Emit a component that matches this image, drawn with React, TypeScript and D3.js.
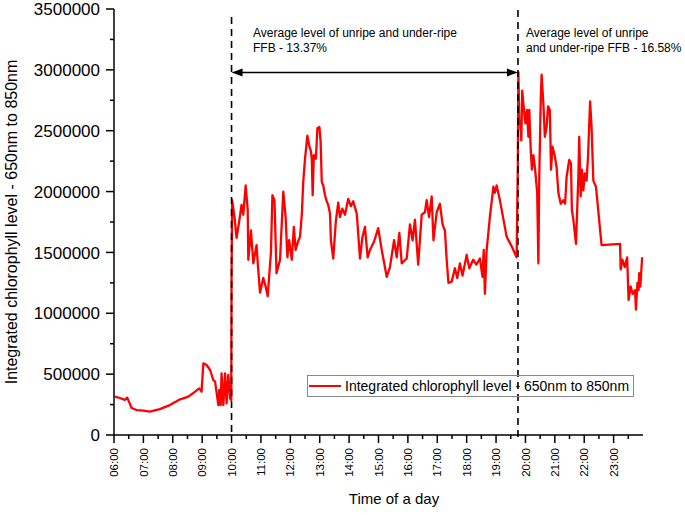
import React from "react";
import * as d3 from "d3";

// Time of day (decimal hours)
const times: number[] = [
  6.03, 6.2, 6.37, 6.45, 6.6, 6.77, 7.0, 7.22, 7.56, 7.9, 8.25, 8.53, 8.76, 8.9, 8.98,
  9.04, 9.15, 9.27, 9.38, 9.44, 9.55, 9.58, 9.63, 9.66, 9.72, 9.78, 9.83, 9.89, 9.95, 9.99,
  10.0, 10.02, 10.1, 10.17, 10.25, 10.34, 10.4, 10.48, 10.55, 10.57, 10.66, 10.74, 10.85, 10.9, 10.97,
  11.08, 11.16, 11.23, 11.34, 11.39, 11.46, 11.53, 11.65, 11.76, 11.84, 11.9, 11.96, 12.05, 12.12, 12.18,
  12.25, 12.33, 12.39, 12.44, 12.5, 12.58, 12.64, 12.7, 12.73, 12.76, 12.8, 12.87, 12.92, 12.99, 13.03,
  13.07, 13.12, 13.18, 13.24, 13.29, 13.35, 13.38, 13.46, 13.55, 13.63, 13.69, 13.77, 13.86, 13.97, 14.06,
  14.14, 14.26, 14.37, 14.45, 14.54, 14.63, 14.71, 14.85, 14.99, 15.11, 15.28, 15.39, 15.53, 15.62, 15.71,
  15.79, 15.96, 16.07, 16.16, 16.24, 16.35, 16.47, 16.58, 16.64, 16.72, 16.81, 16.87, 16.98, 17.09, 17.18,
  17.26, 17.32, 17.38, 17.49, 17.6, 17.68, 17.77, 17.86, 18.0, 18.09, 18.22, 18.33, 18.45, 18.54, 18.58,
  18.62, 18.68, 18.79, 18.91, 18.96, 19.02, 19.13, 19.36, 19.53, 19.7, 19.74,
  19.76, 19.79, 19.83, 19.86, 19.89, 19.95, 20.0, 20.05, 20.1, 20.13, 20.18, 20.22, 20.27, 20.33, 20.4,
  20.44, 20.47, 20.52, 20.55, 20.61, 20.66, 20.72, 20.77, 20.83, 20.87, 20.92, 21.0, 21.06, 21.12, 21.2,
  21.29, 21.35, 21.4, 21.49, 21.55, 21.58, 21.63, 21.72, 21.8, 21.83, 21.88, 21.92, 21.97, 22.02, 22.08,
  22.13, 22.2, 22.25, 22.31, 22.4, 22.59, 23.22, 23.24, 23.3, 23.38, 23.46, 23.51, 23.58, 23.65, 23.73,
  23.76, 23.81, 23.85, 23.87, 23.91, 23.97,
];

// Integrated chlorophyll level values
const values: number[] = [
  315000, 304000, 288000, 307000, 222000, 205000, 200000, 192000, 213000, 246000, 293000, 315000, 356000, 383000, 356000,
  589000, 575000, 534000, 452000, 438000, 246000, 370000, 246000, 507000, 246000, 507000, 260000, 493000, 301000, 288000,
  1300000, 1930000, 1790000, 1620000, 1740000, 1890000, 1810000, 2050000, 1850000, 1440000, 1680000, 1410000, 1560000, 1380000, 1170000,
  1290000, 1220000, 1140000, 1500000, 1970000, 1930000, 1330000, 1440000, 2000000, 1790000, 1460000, 1600000, 1440000, 1710000, 1520000,
  1580000, 1630000, 1810000, 2080000, 2270000, 2460000, 2380000, 2330000, 2270000, 1970000, 2300000, 2270000, 2520000, 2530000, 2410000,
  2080000, 2050000, 1970000, 1920000, 1890000, 1820000, 1600000, 1450000, 1760000, 1910000, 1790000, 1860000, 1810000, 1940000, 1880000,
  1920000, 1820000, 1450000, 1620000, 1710000, 1460000, 1520000, 1590000, 1700000, 1520000, 1300000, 1380000, 1600000, 1460000, 1660000,
  1410000, 1450000, 1730000, 1600000, 1770000, 1400000, 1810000, 1830000, 1930000, 1790000, 1960000, 1600000, 1830000, 1900000, 1730000,
  1680000, 1440000, 1250000, 1260000, 1370000, 1290000, 1410000, 1310000, 1480000, 1370000, 1440000, 1400000, 1450000, 1300000, 1520000,
  1160000, 1520000, 1790000, 2040000, 1990000, 2050000, 1930000, 1630000, 1550000, 1460000, 2200000,
  2980000, 2590000, 2550000, 2420000, 2830000, 2670000, 2560000, 2670000, 2450000, 2670000, 2340000, 2180000, 2300000, 2180000, 1990000,
  1410000, 2120000, 2750000, 2960000, 2720000, 2450000, 2530000, 2700000, 2670000, 2180000, 2370000, 2290000, 2200000, 1990000, 1900000,
  1930000, 1900000, 2120000, 2260000, 2230000, 1850000, 1770000, 1570000, 2120000, 2450000, 1960000, 2180000, 2010000, 2150000, 2090000,
  2290000, 2740000, 2530000, 2090000, 2040000, 1560000, 1570000, 1360000, 1440000, 1380000, 1460000, 1110000, 1220000, 1160000, 1190000,
  1030000, 1250000, 1190000, 1330000, 1220000, 1460000,
];

const xTickHours: number[] = [6, 7, 8, 9, 10, 11, 12, 13, 14, 15, 16, 17, 18, 19, 20, 21, 22, 23];
const xTickLabels: string[] = [
  "06:00", "07:00", "08:00", "09:00", "10:00", "11:00", "12:00", "13:00", "14:00",
  "15:00", "16:00", "17:00", "18:00", "19:00", "20:00", "21:00", "22:00", "23:00",
];
const yTicks: number[] = [0, 500000, 1000000, 1500000, 2000000, 2500000, 3000000, 3500000];

const markerStart = 10.0;
const markerEnd = 19.745;
const annotation1: string[] = ["Average level of unripe and under-ripe", "FFB - 13.37%"];
const annotation2: string[] = ["Average level of unripe", "and under-ripe FFB - 16.58%"];
const seriesName = "Integrated chlorophyll level - 650nm to 850nm";
const xTitle = "Time of a day";
const yTitle = "Integrated chlorophyll level - 650nm to 850nm";

export default function App() {
  const W = 685, H = 515;
  const left = 114, right = 643, top = 9, bottom = 435;
  const x = d3.scaleLinear().domain([6, 24]).range([left, right]);
  const y = d3.scaleLinear().domain([0, 3500000]).range([bottom, top]);
  const font = "Arial, 'Liberation Sans', Helvetica, sans-serif";

  const pts: [number, number][] = times.map((t, i) => [t, values[i]]);
  const line = d3
    .line<[number, number]>()
    .x((d) => x(d[0]))
    .y((d) => y(d[1]));

  const minorX: number[] = d3.range(6.5, 24, 1);
  const minorY: number[] = d3.range(250000, 3500000, 500000);

  const arrowY = 72.5;
  const xs = x(markerStart);
  const xe = x(markerEnd);

  return (
    <svg
      width={W}
      height={H}
      style={{ position: "absolute", left: 0, top: 0, background: "#fff" }}
      fontFamily={font}
    >
      <rect x={0} y={0} width={W} height={H} fill="#fff" />
      {/* Data line */}
      <path d={line(pts) || ""} fill="none" stroke="#ff0000" strokeWidth={2.3} strokeLinejoin="round" />

      {/* Axes */}
      <line x1={left} x2={left} y1={top} y2={bottom} stroke="#000" strokeWidth={1.5} />
      <line x1={left} x2={right} y1={bottom} y2={bottom} stroke="#000" strokeWidth={1.5} />
      {yTicks.map((v) => (
        <g key={"yt" + v}>
          <line x1={left - 8} x2={left} y1={y(v)} y2={y(v)} stroke="#000" strokeWidth={1.5} />
          <text x={left - 14} y={y(v)} dy="0.36em" textAnchor="end" fontSize={17} fill="#000">
            {v}
          </text>
        </g>
      ))}
      {minorY.map((v) => (
        <line key={"ym" + v} x1={left - 4} x2={left} y1={y(v)} y2={y(v)} stroke="#000" strokeWidth={1.5} />
      ))}
      {xTickHours.map((h, i) => (
        <g key={"xt" + h}>
          <line x1={x(h)} x2={x(h)} y1={bottom} y2={bottom + 8} stroke="#000" strokeWidth={1.5} />
          <text
            transform={`translate(${x(h)},${bottom + 13}) rotate(-90)`}
            dy="0.36em"
            textAnchor="end"
            fontSize={11.5}
            fill="#000"
          >
            {xTickLabels[i]}
          </text>
        </g>
      ))}
      {minorX.map((h) => (
        <line key={"xm" + h} x1={x(h)} x2={x(h)} y1={bottom} y2={bottom + 4} stroke="#000" strokeWidth={1.5} />
      ))}

      {/* Axis titles */}
      <text x={394} y={504} textAnchor="middle" fontSize={15} fill="#000">
        {xTitle}
      </text>
      <text transform={`translate(17,222) rotate(-90)`} textAnchor="middle" fontSize={16} fill="#000">
        {yTitle}
      </text>

      {/* Dashed markers */}
      <line x1={xs} x2={xs} y1={17} y2={bottom} stroke="#000" strokeWidth={1.6} strokeDasharray="7,5" />
      <line x1={xe} x2={xe} y1={10} y2={442} stroke="#000" strokeWidth={1.6} strokeDasharray="7,5" />

      {/* Double arrow */}
      <line x1={xs + 8} x2={xe - 8} y1={arrowY} y2={arrowY} stroke="#000" strokeWidth={1.5} />
      <path d={`M${xs},${arrowY} L${xs + 11},${arrowY - 4} L${xs + 11},${arrowY + 4} Z`} fill="#000" />
      <path d={`M${xe},${arrowY} L${xe - 11},${arrowY - 4} L${xe - 11},${arrowY + 4} Z`} fill="#000" />

      {/* Annotations */}
      {annotation1.map((s, i) => (
        <text key={"a1" + i} x={253} y={37 + i * 14.5} fontSize={12} fill="#000">
          {s}
        </text>
      ))}
      {annotation2.map((s, i) => (
        <text key={"a2" + i} x={526} y={37 + i * 14.5} fontSize={12} fill="#000">
          {s}
        </text>
      ))}

      {/* Legend */}
      <rect x={307.5} y={375.5} width={326} height={21} fill="none" stroke="#888" strokeWidth={1} />
      <line x1={309} x2={341} y1={386} y2={386} stroke="#ff0000" strokeWidth={2} />
      <text x={345} y={391} fontSize={14} fill="#000">
        {seriesName}
      </text>
    </svg>
  );
}
